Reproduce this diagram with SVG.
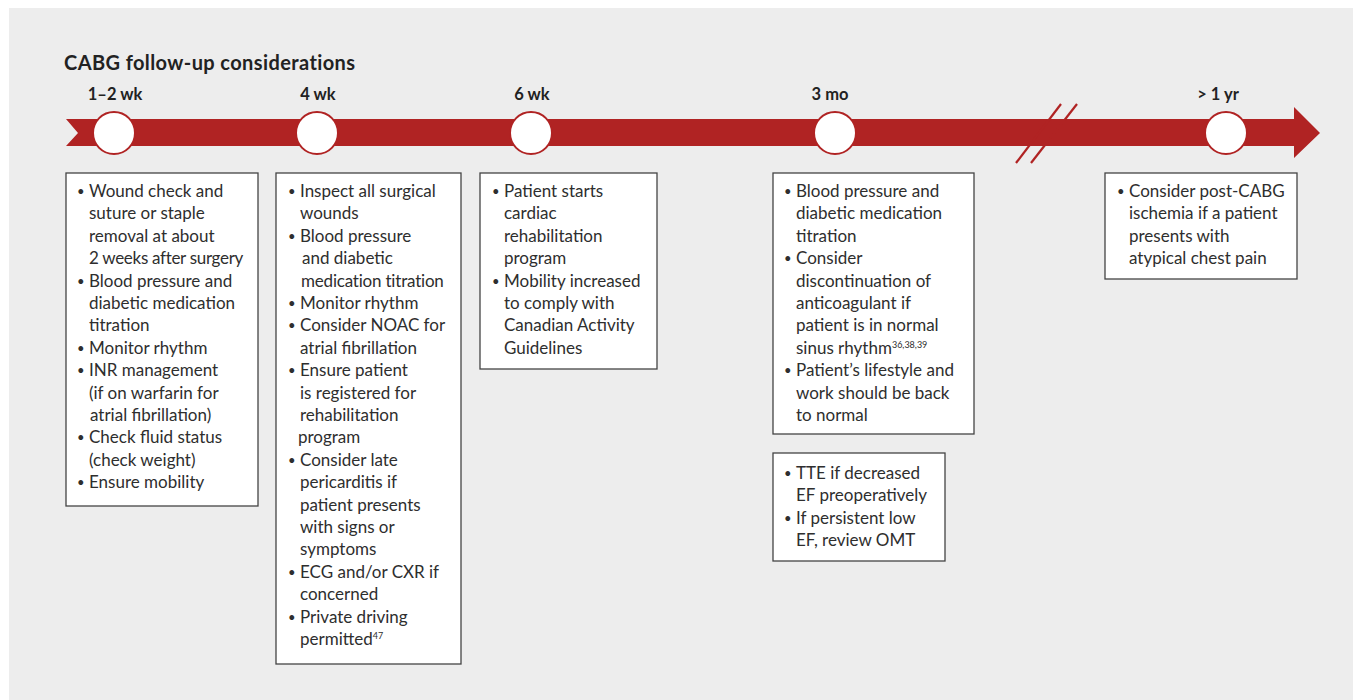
<svg xmlns="http://www.w3.org/2000/svg" width="1355" height="700" viewBox="0 0 1355 700">
<style>
.bg{fill:#ededed}
.band{fill:#b02323}
.dot{fill:#fff;stroke:#b02323;stroke-width:2}
.box{fill:#fff;stroke:#444;stroke-width:1.3}
.t{font-family:Lato,"Liberation Sans",sans-serif;font-size:17px;fill:#2e2e2e}
.b{font-size:13px}
.lbl{font-family:Lato,"Liberation Sans",sans-serif;font-size:16.5px;font-weight:bold;fill:#222;text-anchor:middle}
.title{font-family:Lato,"Liberation Sans",sans-serif;font-size:20px;font-weight:bold;fill:#222;letter-spacing:0.4px}
.sup{font-size:9px}
.brk{stroke:#b02323;stroke-width:2.2}
</style>
<rect class="bg" x="9" y="8" width="1344" height="692"/>
<text class="title" x="64" y="70">CABG follow-up considerations</text>
<g id="connectors">
<polygon class="band" points="66,119 1294,119 1294,107 1320,133 1294,158 1294,146 66,146 78,133"/>
<line class="brk" x1="1016" y1="163" x2="1061" y2="104"/>
<line class="brk" x1="1031" y1="163" x2="1077" y2="104"/>
</g>
<g id="t1"><circle class="dot" cx="114" cy="133" r="21"/><text class="lbl" x="115" y="100">1–2 wk</text></g>
<g id="t2"><circle class="dot" cx="317" cy="133" r="21"/><text class="lbl" x="318" y="100">4 wk</text></g>
<g id="t3"><circle class="dot" cx="531" cy="133" r="21"/><text class="lbl" x="532" y="100">6 wk</text></g>
<g id="t4"><circle class="dot" cx="835" cy="133" r="21"/><text class="lbl" x="830" y="100">3 mo</text></g>
<g id="t5"><circle class="dot" cx="1226" cy="133" r="21"/><text class="lbl" x="1218" y="100">&gt; 1 yr</text></g>
<g id="box1">
<rect class="box" x="66" y="173" width="192" height="333"/>
<text class="t">
<tspan class="b" x="77" y="196">•</tspan><tspan x="89" y="197">Wound check and</tspan>
<tspan x="89" y="219.4">suture or staple</tspan>
<tspan x="89" y="241.8">removal at about</tspan>
<tspan x="89" y="264.2" letter-spacing="-0.3">2 weeks after surgery</tspan>
<tspan class="b" x="77" y="285.6">•</tspan><tspan x="89" y="286.6">Blood pressure and</tspan>
<tspan x="89" y="309">diabetic medication</tspan>
<tspan x="89" y="331.4">titration</tspan>
<tspan class="b" x="77" y="352.8">•</tspan><tspan x="89" y="353.8">Monitor rhythm</tspan>
<tspan class="b" x="77" y="375.2">•</tspan><tspan x="89" y="376.2">INR management</tspan>
<tspan x="89" y="398.6">(if on warfarin for</tspan>
<tspan x="90" y="421">atrial fibrillation)</tspan>
<tspan class="b" x="77" y="442.4">•</tspan><tspan x="89" y="443.4">Check fluid status</tspan>
<tspan x="89" y="465.8">(check weight)</tspan>
<tspan class="b" x="77" y="487.2">•</tspan><tspan x="89" y="488.2">Ensure mobility</tspan>
</text>
</g>
<g id="box2">
<rect class="box" x="276" y="173" width="185" height="491"/>
<text class="t">
<tspan class="b" x="288" y="196">•</tspan><tspan x="300" y="197">Inspect all surgical</tspan>
<tspan x="300" y="219.4">wounds</tspan>
<tspan class="b" x="288" y="240.8">•</tspan><tspan x="300" y="241.8">Blood pressure</tspan>
<tspan x="302" y="264.2">and diabetic</tspan>
<tspan x="301" y="286.6" letter-spacing="-0.2">medication titration</tspan>
<tspan class="b" x="288" y="308">•</tspan><tspan x="300" y="309">Monitor rhythm</tspan>
<tspan class="b" x="288" y="330.4">•</tspan><tspan x="300" y="331.4">Consider NOAC for</tspan>
<tspan x="300" y="353.8">atrial fibrillation</tspan>
<tspan class="b" x="288" y="375.2">•</tspan><tspan x="300" y="376.2">Ensure patient</tspan>
<tspan x="300" y="398.6">is registered for</tspan>
<tspan x="300" y="421">rehabilitation</tspan>
<tspan x="298" y="443.4">program</tspan>
<tspan class="b" x="288" y="464.8">•</tspan><tspan x="300" y="465.8">Consider late</tspan>
<tspan x="300" y="488.2">pericarditis if</tspan>
<tspan x="300" y="510.6">patient presents</tspan>
<tspan x="300" y="533">with signs or</tspan>
<tspan x="300" y="555.4">symptoms</tspan>
<tspan class="b" x="288" y="576.8">•</tspan><tspan x="300" y="577.8">ECG and/or CXR if</tspan>
<tspan x="300" y="600.2">concerned</tspan>
<tspan class="b" x="288" y="621.6">•</tspan><tspan x="300" y="622.6">Private driving</tspan>
<tspan x="300" y="645">permitted</tspan><tspan class="sup" dy="-6">47</tspan>
</text>
</g>
<g id="box3">
<rect class="box" x="480" y="173" width="177" height="196"/>
<text class="t">
<tspan class="b" x="492" y="196">•</tspan><tspan x="504" y="197">Patient starts</tspan>
<tspan x="504" y="219.4">cardiac</tspan>
<tspan x="504" y="241.8">rehabilitation</tspan>
<tspan x="504" y="264.2">program</tspan>
<tspan class="b" x="492" y="285.6">•</tspan><tspan x="504" y="286.6">Mobility increased</tspan>
<tspan x="504" y="309">to comply with</tspan>
<tspan x="504" y="331.4">Canadian Activity</tspan>
<tspan x="504" y="353.8">Guidelines</tspan>
</text>
</g>
<g id="box4">
<rect class="box" x="773" y="173" width="201" height="261"/>
<text class="t">
<tspan class="b" x="784" y="196">•</tspan><tspan x="796" y="197">Blood pressure and</tspan>
<tspan x="796" y="219.4">diabetic medication</tspan>
<tspan x="796" y="241.8">titration</tspan>
<tspan class="b" x="784" y="263.2">•</tspan><tspan x="796" y="264.2">Consider</tspan>
<tspan x="796" y="286.6">discontinuation of</tspan>
<tspan x="796" y="309">anticoagulant if</tspan>
<tspan x="796" y="331.4">patient is in normal</tspan>
<tspan x="796" y="353.8">sinus rhythm</tspan><tspan class="sup" dy="-6">36,38,39</tspan>
<tspan class="b" x="784" y="375.2">•</tspan><tspan x="796" y="376.2">Patient’s lifestyle and</tspan>
<tspan x="796" y="398.6">work should be back</tspan>
<tspan x="796" y="421">to normal</tspan>
</text>
</g>
<g id="box5">
<rect class="box" x="773" y="453" width="172" height="108"/>
<text class="t">
<tspan class="b" x="784" y="478">•</tspan><tspan x="796" y="479">TTE if decreased</tspan>
<tspan x="796" y="501.4">EF preoperatively</tspan>
<tspan class="b" x="784" y="522.8">•</tspan><tspan x="796" y="523.8">If persistent low</tspan>
<tspan x="796" y="546.2">EF, review OMT</tspan>
</text>
</g>
<g id="box6">
<rect class="box" x="1105" y="173" width="192" height="106"/>
<text class="t">
<tspan class="b" x="1117" y="196">•</tspan><tspan x="1129" y="197">Consider post-CABG</tspan>
<tspan x="1129" y="219.4">ischemia if a patient</tspan>
<tspan x="1129" y="241.8">presents with</tspan>
<tspan x="1129" y="264.2">atypical chest pain</tspan>
</text>
</g>
</svg>
